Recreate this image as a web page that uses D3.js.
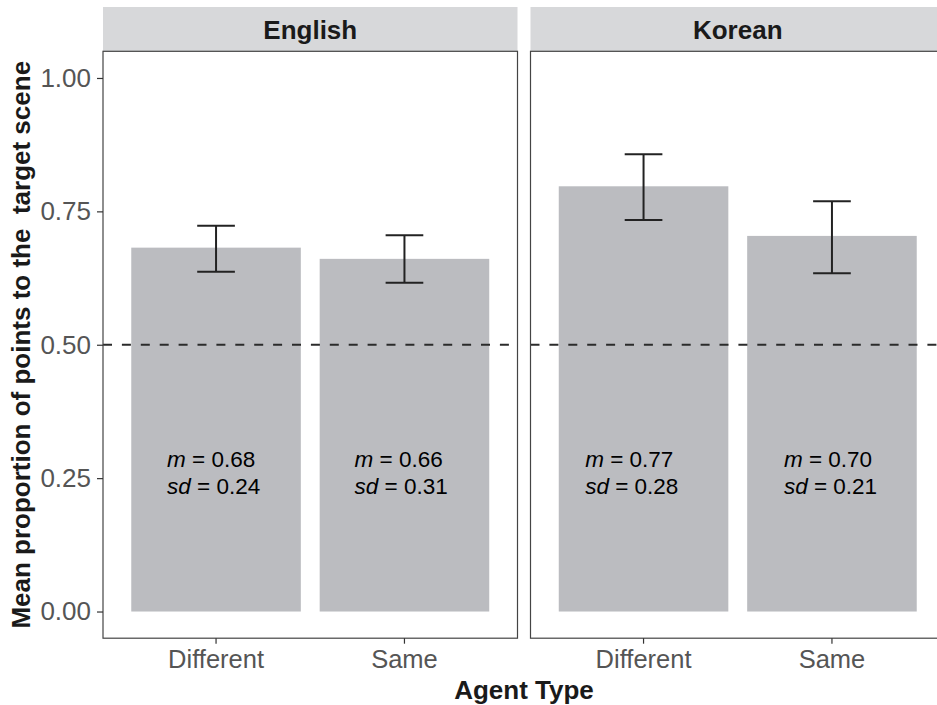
<!DOCTYPE html>
<html>
<head>
<meta charset="utf-8">
<script src="https://cdn.jsdelivr.net/npm/d3@7"></script>
<style>
  html, body { margin: 0; padding: 0; background: #ffffff; }
  svg { display: block; font-family: "Liberation Sans", Arial, Helvetica, sans-serif; }
</style>
</head>
<body>
<svg id="chart" width="937" height="705"></svg>
<script>
// ---- data ----
const languages = ["English", "Korean"];
const agentTypes = ["Different", "Same"];
const englishMeans = [0.682, 0.661];
const englishLower = [0.637, 0.616];
const englishUpper = [0.723, 0.705];
const koreanMeans = [0.797, 0.704];
const koreanLower = [0.734, 0.634];
const koreanUpper = [0.857, 0.769];
const englishMLabels = ["0.68", "0.66"];
const englishSdLabels = ["0.24", "0.31"];
const koreanMLabels = ["0.77", "0.70"];
const koreanSdLabels = ["0.28", "0.21"];
const yTicks = [0, 0.25, 0.5, 0.75, 1.0];
const yTickLabels = ["0.00", "0.25", "0.50", "0.75", "1.00"];
const chanceLevel = 0.5;
// annotation anchors (data units: category position, y value)
const englishLabelX = [0.74, 1.735];
const koreanLabelX = [0.69, 1.745];
const labelY = 0.27;

const panels = [
  { name: languages[0], means: englishMeans, lower: englishLower, upper: englishUpper,
    mLab: englishMLabels, sdLab: englishSdLabels, labX: englishLabelX },
  { name: languages[1], means: koreanMeans, lower: koreanLower, upper: koreanUpper,
    mLab: koreanMLabels, sdLab: koreanSdLabels, labX: koreanLabelX }
];

// ---- layout ----
const svg = d3.select("#chart");
const panelW = 414.5;
const panelX = [103, 530.5];
const plotTop = 51.3;
const plotH = 586.9;
const stripTop = 7;

const y = d3.scaleLinear().domain([-0.05, 1.05]).range([plotTop + plotH, plotTop]);
const xBand = d3.scaleBand().domain(agentTypes).range([0, panelW]).paddingInner(0.1).paddingOuter(0.15);
const xCont = d3.scaleLinear().domain([0.4, 2.6]).range([0, panelW]);

const barFill = "#bbbcc0";
const borderCol = "#444444";
const tickTextCol = "#555555";

panels.forEach((p, pi) => {
  const g = svg.append("g").attr("transform", `translate(${panelX[pi]},0)`);

  // strip
  g.append("rect").attr("x", 0).attr("y", stripTop).attr("width", panelW)
    .attr("height", plotTop - stripTop).attr("fill", "#d7d8da");
  g.append("text").attr("x", panelW / 2).attr("y", 39.3)
    .attr("text-anchor", "middle").attr("font-size", 26).attr("font-weight", "bold")
    .attr("fill", "#1a1a1a").text(p.name);

  // bars
  g.selectAll("rect.bar").data(agentTypes).enter().append("rect")
    .attr("class", "bar")
    .attr("x", d => xBand(d))
    .attr("width", xBand.bandwidth())
    .attr("y", (d, i) => y(p.means[i]))
    .attr("height", (d, i) => y(0) - y(p.means[i]))
    .attr("fill", barFill);

  // chance line
  g.append("line").attr("x1", 0).attr("x2", panelW)
    .attr("y1", y(chanceLevel)).attr("y2", y(chanceLevel))
    .attr("stroke", "#2b2b2b").attr("stroke-width", 2)
    .attr("stroke-dasharray", "9,9.9");

  // error bars
  const eb = g.selectAll("g.eb").data(agentTypes).enter().append("g").attr("class", "eb");
  const cx = d => xBand(d) + xBand.bandwidth() / 2;
  const capHalf = (xCont(1.1) - xCont(0.9)) / 2;
  eb.append("line").attr("x1", cx).attr("x2", cx)
    .attr("y1", (d, i) => y(p.lower[i])).attr("y2", (d, i) => y(p.upper[i]));
  eb.append("line").attr("x1", d => cx(d) - capHalf).attr("x2", d => cx(d) + capHalf)
    .attr("y1", (d, i) => y(p.upper[i])).attr("y2", (d, i) => y(p.upper[i]));
  eb.append("line").attr("x1", d => cx(d) - capHalf).attr("x2", d => cx(d) + capHalf)
    .attr("y1", (d, i) => y(p.lower[i])).attr("y2", (d, i) => y(p.lower[i]));
  eb.selectAll("line").attr("stroke", "#222222").attr("stroke-width", 2);

  // annotations
  agentTypes.forEach((d, i) => {
    const t = g.append("text").attr("x", xCont(p.labX[i])).attr("y", y(labelY))
      .attr("font-size", 22.5).attr("fill", "#000");
    t.append("tspan").attr("font-style", "italic").text("m");
    t.append("tspan").text(" = " + p.mLab[i]);
    const t2 = g.append("text").attr("x", xCont(p.labX[i])).attr("y", y(labelY) + 26.7)
      .attr("font-size", 22.5).attr("fill", "#000");
    t2.append("tspan").attr("font-style", "italic").text("sd");
    t2.append("tspan").text(" = " + p.sdLab[i]);
  });

  // panel border
  g.append("rect").attr("x", 0).attr("y", plotTop).attr("width", panelW).attr("height", plotH)
    .attr("fill", "none").attr("stroke", borderCol).attr("stroke-width", 1.2);

  // x axis
  const xAxis = d3.axisBottom(xBand).tickSizeOuter(0).tickSize(5.5).tickPadding(6);
  const xa = g.append("g").attr("transform", `translate(0,${plotTop + plotH})`).call(xAxis);
  xa.select(".domain").remove();
  xa.selectAll(".tick line").attr("stroke", "#333").attr("stroke-width", 1.2);
  xa.selectAll(".tick text").attr("font-size", 25.5).attr("fill", tickTextCol)
    .attr("font-family", "Liberation Sans, Arial, sans-serif");
});

// y axis (left panel only)
const yAxis = d3.axisLeft(y).tickValues(yTicks).tickFormat((d, i) => yTickLabels[i])
  .tickSize(6).tickPadding(6).tickSizeOuter(0);
const ya = svg.append("g").attr("transform", `translate(${panelX[0]},0)`).call(yAxis);
ya.select(".domain").remove();
ya.selectAll(".tick line").attr("stroke", "#333").attr("stroke-width", 1.2);
ya.selectAll(".tick text").attr("font-size", 26).attr("fill", tickTextCol)
  .attr("font-family", "Liberation Sans, Arial, sans-serif");

// axis titles
svg.append("text").attr("x", (panelX[0] + panelX[1] + panelW) / 2).attr("y", 699.3)
  .attr("text-anchor", "middle").attr("font-size", 26).attr("font-weight", "bold")
  .attr("fill", "#1a1a1a").text("Agent Type");

svg.append("text")
  .attr("transform", `translate(29.5,${plotTop + plotH / 2}) rotate(-90)`)
  .attr("text-anchor", "middle").attr("font-size", 26).attr("font-weight", "bold")
  .attr("fill", "#1a1a1a").attr("xml:space", "preserve")
  .style("white-space", "pre")
  .text("Mean proportion of points to the  target scene");
</script>
</body>
</html>
